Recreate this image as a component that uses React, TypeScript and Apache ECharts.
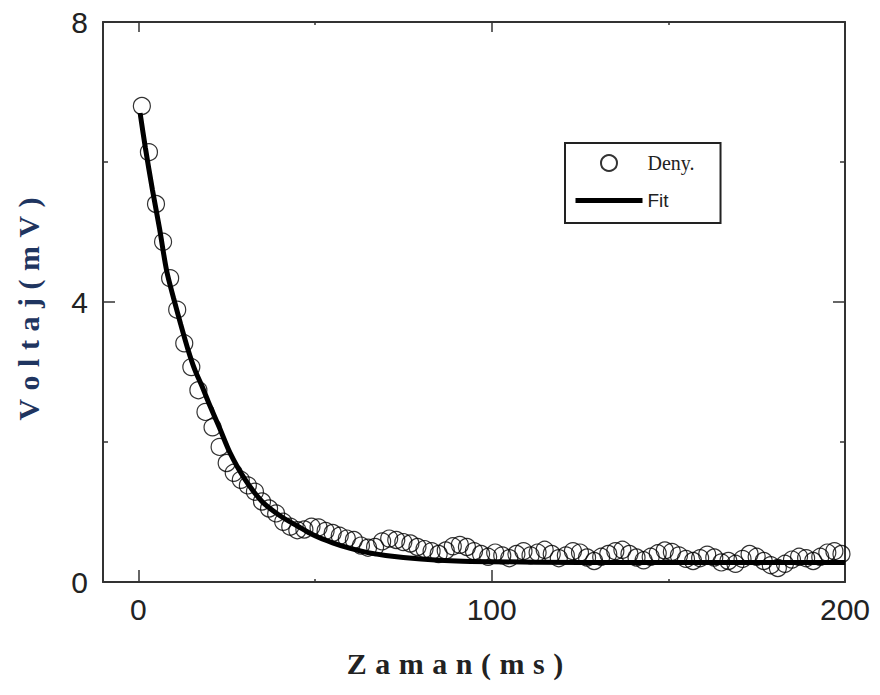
import React, { useEffect, useRef } from "react";
import * as echarts from "echarts";

const timeMs = [
  1, 3, 5, 7, 9, 11, 13, 15, 17, 19,
  21, 23, 25, 27, 29, 31, 33, 35, 37, 39,
  41, 43, 45, 47, 49, 51, 53, 55, 57, 59,
  61, 63, 65, 67, 69, 71, 73, 75, 77, 79,
  81, 83, 85, 87, 89, 91, 93, 95, 97, 99,
  101, 103, 105, 107, 109, 111, 113, 115, 117, 119,
  121, 123, 125, 127, 129, 131, 133, 135, 137, 139,
  141, 143, 145, 147, 149, 151, 153, 155, 157, 159,
  161, 163, 165, 167, 169, 171, 173, 175, 177, 179,
  181, 183, 185, 187, 189, 191, 193, 195, 197, 199,
];
const voltage = [
  6.80, 6.14, 5.40, 4.86, 4.34, 3.89, 3.41, 3.07, 2.74, 2.43,
  2.21, 1.93, 1.70, 1.56, 1.46, 1.38, 1.29, 1.15, 1.05, 0.98,
  0.86, 0.79, 0.74, 0.75, 0.79, 0.78, 0.73, 0.70, 0.66, 0.62,
  0.60, 0.52, 0.49, 0.50, 0.58, 0.62, 0.60, 0.57, 0.55, 0.50,
  0.47, 0.44, 0.40, 0.45, 0.51, 0.53, 0.50, 0.44, 0.40, 0.36,
  0.42, 0.38, 0.34, 0.40, 0.44, 0.38, 0.42, 0.46, 0.40, 0.34,
  0.38, 0.44, 0.42, 0.35, 0.30, 0.36, 0.40, 0.44, 0.46, 0.40,
  0.35, 0.31, 0.36, 0.41, 0.45, 0.43, 0.38, 0.33, 0.30, 0.34,
  0.39, 0.35, 0.28, 0.30, 0.26, 0.33, 0.40, 0.36, 0.30, 0.24,
  0.20, 0.26, 0.32, 0.36, 0.34, 0.30, 0.36, 0.42, 0.44, 0.40,
];

// Fit curve
const fitTime = [0.5, 2, 4, 6, 8, 10, 12, 14, 16, 18, 20, 23, 26, 30, 35, 40, 45, 50, 55, 60, 65, 70, 80, 90, 100, 125, 150, 175, 200];
const fitVoltage = [6.7, 6.2, 5.6, 5.05, 4.45, 4.05, 3.68, 3.33, 3.03, 2.8, 2.55, 2.2, 1.84, 1.48, 1.15, 0.95, 0.8, 0.66, 0.56, 0.48, 0.42, 0.38, 0.33, 0.3, 0.29, 0.28, 0.28, 0.28, 0.28];

const xMajorTicks = [0, 100, 200];
const xMinorTicks = [50, 150];

const SP = "\u2009\u200A";
const xTitle = ["Z", "a", "m", "a", "n", "(", "m", "s", ")"].join(SP);
const yTitle = ["V", "o", "l", "t", "a", "j", "(", "m", "V", ")"].join(SP);

const frameColor = "#333";

export default function App() {
  const ref = useRef<HTMLDivElement>(null);
  useEffect(() => {
    if (!ref.current) return;
    const chart = echarts.init(ref.current, null, { renderer: "svg" });
    const scatterData = timeMs.map((t, i) => [t, voltage[i]]);
    const fitData = fitTime.map((t, i) => [t, fitVoltage[i]]);
    const tickLabel = {
      fontFamily: "Liberation Sans",
      fontSize: 30,
      color: "#222",
    };
    const baseX = {
      type: "value",
      min: -10,
      max: 200,
      interval: 10,
      splitLine: { show: false },
    };
    chart.setOption({
      animation: false,
      backgroundColor: "#fff",
      grid: { left: 103, right: 35, top: 22, bottom: 113, containLabel: false },
      legend: {
        orient: "vertical",
        left: 565,
        top: 143,
        itemWidth: 67,
        itemHeight: 16,
        itemGap: 18,
        padding: [10, 26, 13, 8],
        borderColor: "#222",
        borderWidth: 2,
        borderRadius: 0,
        backgroundColor: "#fff",
        textStyle: { color: "#222", fontSize: 19 },
        data: [
          { name: "Deny.", textStyle: { fontFamily: "Liberation Serif", fontSize: 20 } },
          {
            name: "Fit",
            textStyle: { fontFamily: "Liberation Sans", fontSize: 19 },
            itemStyle: { color: "rgba(0,0,0,0)", borderWidth: 0, opacity: 0 },
            lineStyle: { width: 5, color: "#000" },
          },
        ],
      },
      xAxis: [
        {
          ...baseX,
          position: "bottom",
          axisLine: { show: true, onZero: false, lineStyle: { color: frameColor, width: 2 } },
          axisTick: { show: true, inside: true, length: 12, customValues: xMajorTicks, lineStyle: { color: frameColor, width: 1.5 } },
          axisLabel: { ...tickLabel, margin: 12, customValues: xMajorTicks },
          name: xTitle,
          nameLocation: "middle",
          nameGap: 66,
          nameTextStyle: {
            fontFamily: "Liberation Serif",
            fontWeight: "bold",
            fontSize: 30,
            color: "#222",
            padding: [0, 38, 0, 0],
          },
        },
        {
          ...baseX,
          position: "top",
          axisLine: { show: true, onZero: false, lineStyle: { color: frameColor, width: 2 } },
          axisTick: { show: true, inside: true, length: 10, customValues: xMajorTicks, lineStyle: { color: frameColor, width: 1.5 } },
          axisLabel: { show: false },
        },
        {
          ...baseX,
          position: "bottom",
          axisLine: { show: false, onZero: false },
          axisTick: { show: true, inside: true, length: 3, customValues: xMinorTicks, lineStyle: { color: frameColor, width: 1.5 } },
          axisLabel: { show: false },
        },
        {
          ...baseX,
          position: "top",
          axisLine: { show: false, onZero: false },
          axisTick: { show: true, inside: true, length: 3, customValues: xMinorTicks, lineStyle: { color: frameColor, width: 1.5 } },
          axisLabel: { show: false },
        },
      ],
      yAxis: [
        {
          type: "value",
          position: "left",
          min: 0,
          max: 8,
          interval: 4,
          splitLine: { show: false },
          axisLine: { show: true, onZero: false, lineStyle: { color: frameColor, width: 2 } },
          axisTick: { show: true, inside: true, length: 12, lineStyle: { color: frameColor, width: 1.5 } },
          minorTick: { show: true, splitNumber: 2, length: 5, lineStyle: { color: frameColor, width: 1.5 } },
          axisLabel: { ...tickLabel, margin: 15 },
          name: yTitle,
          nameLocation: "middle",
          nameGap: 60,
          nameTextStyle: {
            fontFamily: "Liberation Serif",
            fontWeight: "bold",
            fontSize: 30,
            color: "#1f3560",
            padding: [0, 14, 0, 0],
          },
        },
        {
          type: "value",
          position: "right",
          min: 0,
          max: 8,
          interval: 4,
          splitLine: { show: false },
          axisLine: { show: true, onZero: false, lineStyle: { color: frameColor, width: 2 } },
          axisTick: { show: true, inside: true, length: 12, lineStyle: { color: frameColor, width: 1.5 } },
          minorTick: { show: true, splitNumber: 2, length: 5, lineStyle: { color: frameColor, width: 1.5 } },
          axisLabel: { show: false },
        },
      ],
      series: [
        {
          type: "scatter",
          name: "Deny.",
          xAxisIndex: 0,
          yAxisIndex: 0,
          data: scatterData,
          symbol: "circle",
          symbolSize: 17,
          itemStyle: { color: "rgba(255,255,255,0)", borderColor: "#000", borderWidth: 1.2 },
          z: 2,
        },
        {
          type: "line",
          name: "Fit",
          xAxisIndex: 0,
          yAxisIndex: 0,
          data: fitData,
          smooth: 0.3,
          showSymbol: false,
          symbol: "none",
          lineStyle: { color: "#000", width: 5 },
          itemStyle: { color: "#000" },
          z: 3,
        },
      ],
    });
    return () => chart.dispose();
  }, []);
  return (
    <div
      ref={ref}
      style={{ position: "fixed", left: 0, top: 0, width: 880, height: 695, background: "#fff" }}
    />
  );
}
